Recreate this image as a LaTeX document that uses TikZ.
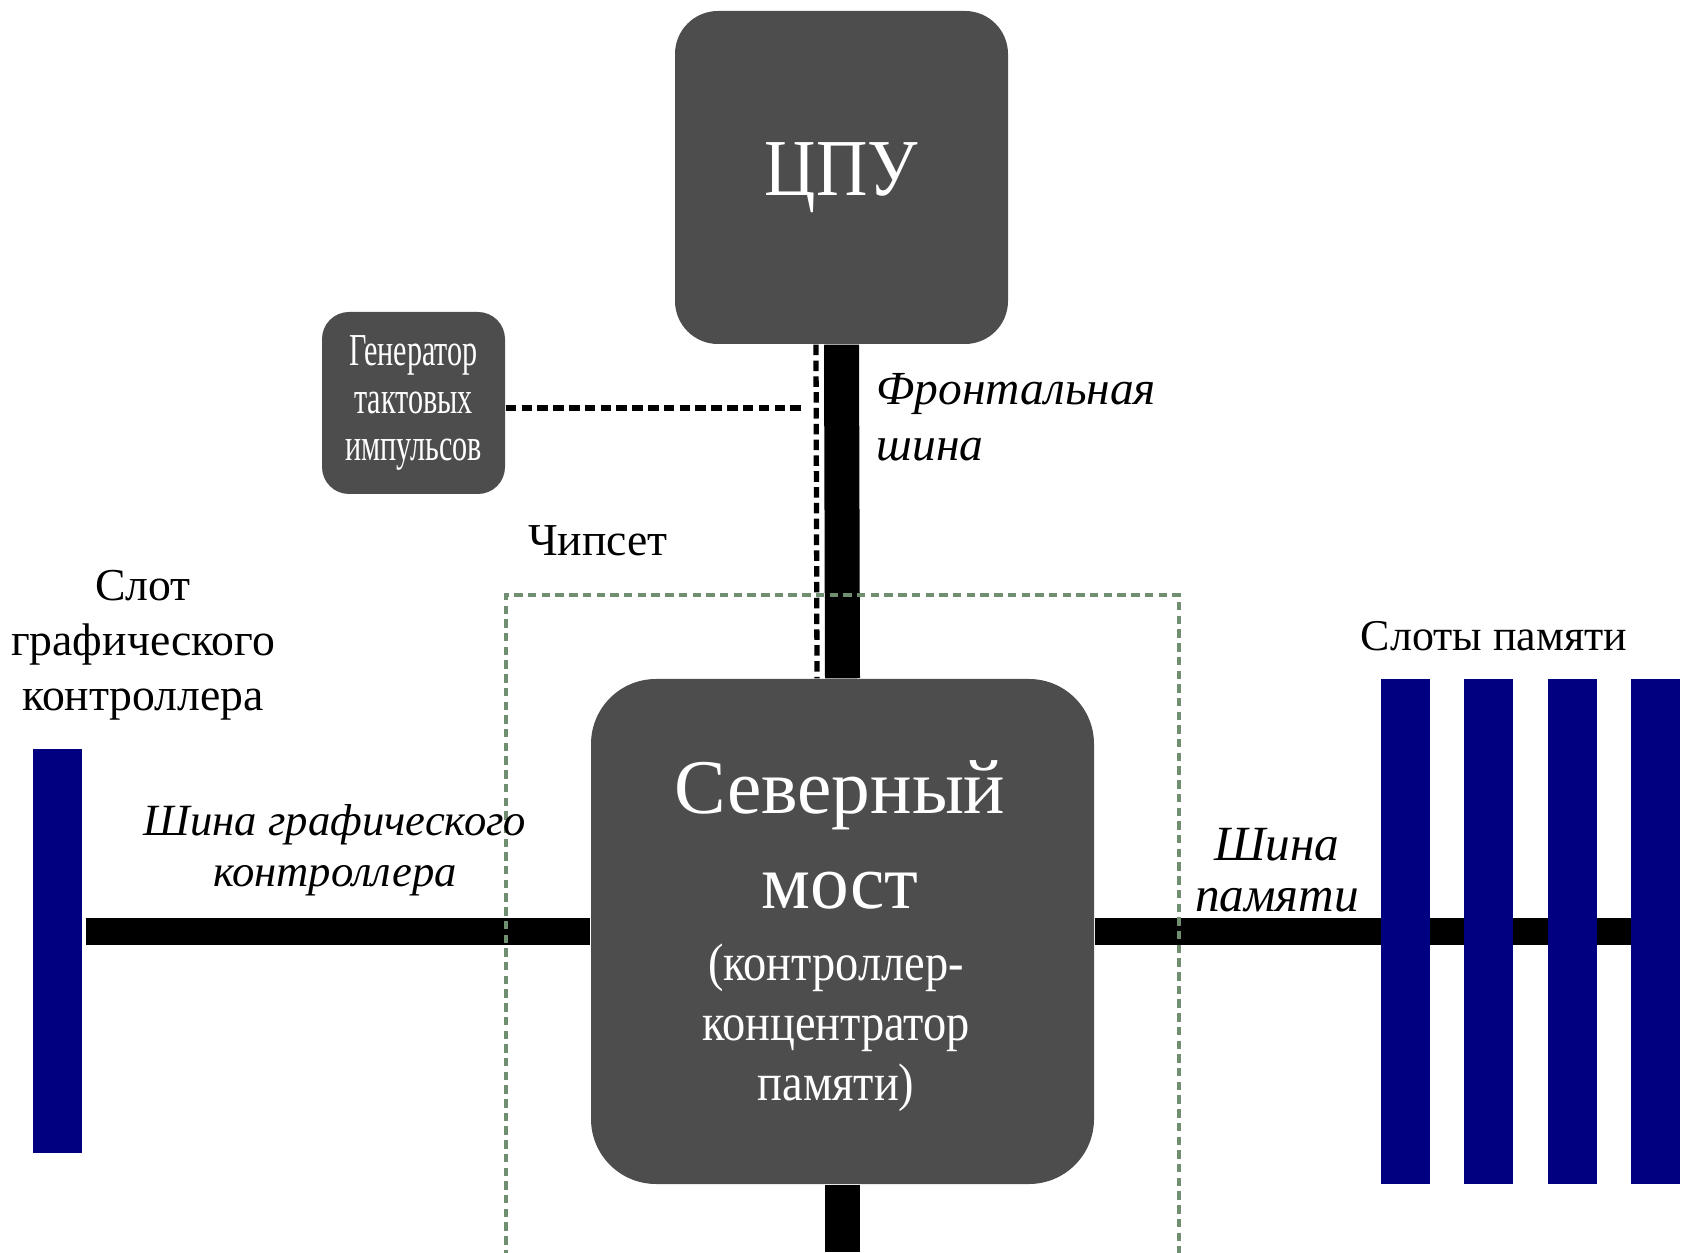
\documentclass[tikz,border=0pt]{standalone}
\usepackage{fontspec}
\setmainfont{Liberation Serif}
\newfontfamily\narrowfont[FakeStretch=0.66]{Liberation Serif}
\newfontfamily\cpufont[FakeStretch=0.88]{Liberation Serif}
\usetikzlibrary{backgrounds}
\definecolor{chipgray}{RGB}{77,77,77}
\definecolor{slotblue}{RGB}{0,0,128}
\definecolor{setgreen}{RGB}{112,142,112}
\tikzset{
	chip/.style={fill=chipgray, text=white, inner sep=0pt, align=center},
	slot/.style={fill=slotblue, inner sep=0pt, minimum width=0.49cm},
	bus/.style={line width=0.27cm},
	clockline/.style={line width=1.5pt, dash pattern=on 3pt off 1.5pt},
	chipsetline/.style={setgreen, line width=0.9pt, dash pattern=on 2.4pt off 1.5pt},
	lbl/.style={align=center, inner sep=0pt, font=\fontsize{13}{15.6}\selectfont},
	buslbl/.style={align=center, inner sep=0pt, font=\itshape\fontsize{12.7}{14.5}\selectfont}
}
\begin{document}
\begin{tikzpicture}
	\useasboundingbox (0,0) rectangle (16.85,12.52);
	% chips
	\node [chip, rounded corners=0.43cm, minimum width=3.33cm, minimum height=3.33cm,
		font=\cpufont\fontsize{23}{23}\selectfont] (cpu) at (8.415,10.745) {ЦПУ};
	\node [chip, rounded corners=0.27cm, minimum width=1.83cm, minimum height=1.82cm,
		font=\narrowfont\fontsize{13}{13.4}\selectfont] (gen) at (4.135,8.49) {Генератор\\тактовых\\импульсов};
	\node [chip, rounded corners=0.65cm, minimum width=5.03cm, minimum height=5.05cm] (nb) at (8.425,3.205) {};
	\node [lbl, text=white, font=\fontsize{22}{27}\selectfont] (nbtitle) at (8.4,4.17) {Северный\\мост};
	\node [lbl, text=white, font=\cpufont\fontsize{15}{17}\selectfont] (nbsub) at (8.36,2.24) {(контроллер-\\концентратор\\памяти)};
	% slots
	\node [slot, minimum height=4.04cm] (gs) at (0.57,3.01) {};
	\foreach \i in {1,...,4}
		\node [slot, minimum height=5.05cm] (m\i) at ({14.05+0.835*(\i-1)},3.205) {};
	% buses
	\begin{scope}[on background layer]
		\draw [bus, line width=0.35cm] (cpu.south) -- (nb.north);
		\draw [bus, line width=0.35cm] (nb.south) -- (nb.south |- 0,0);
		\draw [bus] ([xshift=1pt]gs.east |- nb.west) -- (nb.west);
		\draw [bus] (nb.east) -- ([xshift=-0.12cm]m4.center |- nb.east);
	\end{scope}
	\coordinate (clk) at (8.01,8.44);
	\draw [clockline] ([yshift=-0.05cm]gen.east) -- (clk);
	\draw [clockline] ([xshift=-0.255cm]cpu.south) -- ([xshift=-0.255cm]nb.north);
	% chipset
	\draw [chipsetline] (5.06,-0.2) |- (11.79,6.57) -- (11.79,-0.2);
	\node [lbl] (chipset) at (5.98,7.11) {Чипсет};
	% labels
	\node [buslbl, align=left, anchor=west, font=\itshape\fontsize{13.5}{16}\selectfont] (fsb) at (8.76,8.35) {Фронтальная\\шина};
	\node [buslbl] (agpbus) at (3.35,4.02) {Шина графического\\контроллера};
	\node [buslbl, font=\itshape\fontsize{14}{14.5}\selectfont] (membus) at (12.77,3.82) {Шина\\памяти};
	\node [lbl] (gslbl) at (1.43,6.07) {Слот\\графического\\контроллера};
	\node [lbl, font=\fontsize{12.5}{14}\selectfont] (mlbl) at (14.94,6.16) {Слоты памяти};
\end{tikzpicture}
\end{document}
